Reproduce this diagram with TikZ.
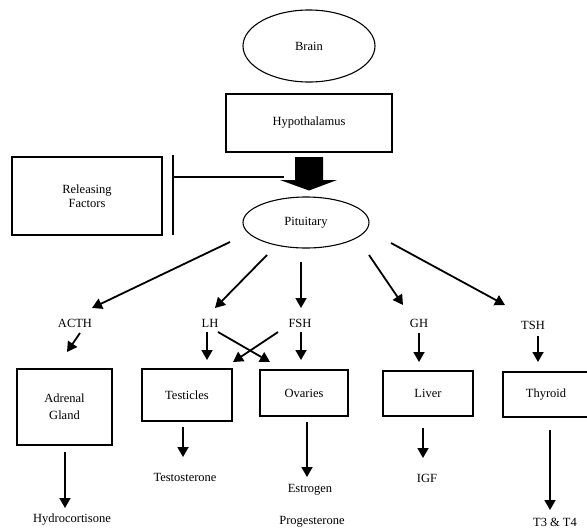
\documentclass[tikz,border=0pt]{standalone}
\usepackage{fontspec}
\setmainfont{Liberation Serif}
\usetikzlibrary{shapes.geometric,arrows.meta}
\begin{document}
\begin{tikzpicture}[x=1pt,y=-1pt,
  every node/.style={font=\fontsize{12.5}{14}\selectfont},
  box/.style={draw,line width=1.1pt,rectangle,inner sep=0pt},
  oval/.style={draw,line width=1.1pt,ellipse,inner sep=0pt},
  lbl/.style={inner sep=1pt},
  arr/.style={line width=1.8pt,-{Triangle[length=10pt,width=11pt]}},
  thin/.style={line width=1.1pt},
]
\clip (0,0) rectangle (587,531);
\fill[white] (0,0) rectangle (587,531);

% top chain
\node[oval,minimum width=132pt,minimum height=72pt] (brain) at (309,46) {Brain};
\node[box,minimum width=166pt,minimum height=58pt] (hypo) at (309,123) {Hypothalamus};
\node[box,minimum width=150pt,minimum height=78pt,align=center,
      font=\fontsize{12.5}{14.5}\selectfont] (rel) at (87,196) {Releasing\\Factors};
\node[oval,minimum width=126pt,minimum height=51pt] (pit) at (306,222.5) {Pituitary};

% thick arrow hypothalamus -> pituitary
\fill (295,157) -- (323,157) -- (323,180) -- (337,180) -- (309,190.5)
      -- (280,180) -- (295,180) -- cycle;

% releasing factors inhibition bar and line
\coordinate (bartop) at (173,155);
\coordinate (barbot) at (173,235);
\coordinate (barmid) at (173,177);
\coordinate (harrow) at (284,177);
\draw[thin] (bartop) -- (barbot);
\draw[thin] (barmid) -- (harrow);

% hormone labels
\node[lbl] (acth) at (75,323) {ACTH};
\node[lbl] (lh) at (210,323) {LH};
\node[lbl] (fsh) at (300,323) {FSH};
\node[lbl] (gh) at (419,323) {GH};
\node[lbl] (tsh) at (533,325) {TSH};

% arrows from pituitary
\coordinate (p1) at (230,242); \coordinate (e1) at (92,308);
\coordinate (p2) at (267,255); \coordinate (e2) at (215,308);
\coordinate (p3) at (301,262); \coordinate (e3) at (301,308);
\coordinate (p4) at (369,255); \coordinate (e4) at (403,305);
\coordinate (p5) at (391,243); \coordinate (e5) at (505,305);
\draw[arr] (p1) -- (e1);
\draw[arr] (p2) -- (e2);
\draw[arr] (p3) -- (e3);
\draw[arr] (p4) -- (e4);
\draw[arr] (p5) -- (e5);

% glands
\node[box,minimum width=95pt,minimum height=76pt,align=center,
      font=\fontsize{12.5}{17}\selectfont] (adr) at (64.5,407) {Adrenal\\Gland};
\node[box,minimum width=90pt,minimum height=52pt] (tes) at (187,395) {Testicles};
\node[box,minimum width=88pt,minimum height=46pt] (ova) at (304,393) {Ovaries};
\node[box,minimum width=90pt,minimum height=45pt] (liv) at (428,393.5) {Liver};
\node[box,minimum width=86pt,minimum height=45pt] (thy) at (546,394.5) {Thyroid};

% arrows hormone -> gland
\coordinate (h1s) at (80,333);  \coordinate (h1e) at (67,352);
\coordinate (h2s) at (207,332); \coordinate (h2e) at (207,360);
\coordinate (h3s) at (218,332); \coordinate (h3e) at (270,362);
\coordinate (h4s) at (278,332); \coordinate (h4e) at (233,362);
\coordinate (h5s) at (301,332); \coordinate (h5e) at (301,360);
\coordinate (h6s) at (419,333); \coordinate (h6e) at (419,362);
\coordinate (h7s) at (538,336); \coordinate (h7e) at (538,362);
\draw[arr] (h1s) -- (h1e);
\draw[arr] (h2s) -- (h2e);
\draw[arr] (h3s) -- (h3e);
\draw[arr] (h4s) -- (h4e);
\draw[arr] (h5s) -- (h5e);
\draw[arr] (h6s) -- (h6e);
\draw[arr] (h7s) -- (h7e);

% products
\node[lbl] (hyd) at (72,520) {Hydrocortisone};
\node[lbl] (tst) at (185,477) {Testosterone};
\node[lbl] (est) at (310,490) {Estrogen};
\node[lbl] (pro) at (312,522) {Progesterone};
\node[lbl] (igf) at (427,478) {IGF};
\node[lbl] (t34) at (555,522) {T3 \& T4};

% arrows gland -> product
\coordinate (g1s) at (65,452);  \coordinate (g1e) at (65,508);
\coordinate (g2s) at (183,427); \coordinate (g2e) at (183,457);
\coordinate (g3s) at (307,422); \coordinate (g3e) at (307,477);
\coordinate (g4s) at (423,428); \coordinate (g4e) at (423,458);
\coordinate (g5s) at (550,430); \coordinate (g5e) at (550,510);
\draw[arr] (g1s) -- (g1e);
\draw[arr] (g2s) -- (g2e);
\draw[arr] (g3s) -- (g3e);
\draw[arr] (g4s) -- (g4e);
\draw[arr] (g5s) -- (g5e);
\end{tikzpicture}
\end{document}
